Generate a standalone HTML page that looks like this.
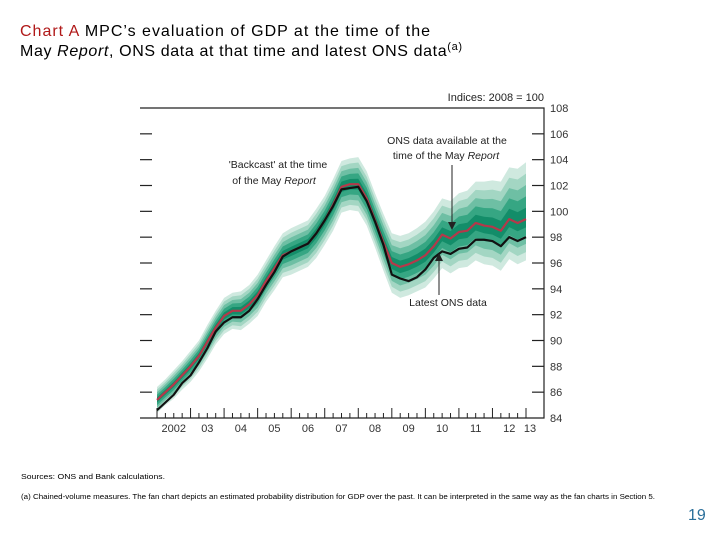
<!DOCTYPE html>
<html><head><meta charset="utf-8"><style>
body{margin:0;background:#fff;width:720px;height:540px;overflow:hidden;font-family:"Liberation Sans",sans-serif}
</style></head><body>
<svg id="chart" width="720" height="540" viewBox="0 0 720 540" xmlns="http://www.w3.org/2000/svg" font-family="Liberation Sans, sans-serif">
<text x="20" y="36" font-size="16" fill="#000" textLength="410" lengthAdjust="spacing"><tspan fill="#b01818">Chart A</tspan>  MPC’s evaluation of GDP at the time of the</text>
<text x="20" y="56" font-size="16" fill="#000" textLength="442" lengthAdjust="spacing">May <tspan font-style="italic">Report</tspan>, ONS data at that time and latest ONS data<tspan font-size="11" dy="-6">(a)</tspan></text>
<g id="plot"></g>
<text x="21" y="479" font-size="7" fill="#000" textLength="144" lengthAdjust="spacingAndGlyphs">Sources:  ONS and Bank calculations.</text>
<text x="21" y="499" font-size="7" fill="#000" textLength="634" lengthAdjust="spacingAndGlyphs">(a)  Chained-volume measures.  The fan chart depicts an estimated probability distribution for GDP over the past.  It can be interpreted in the same way as the fan charts in Section 5.</text>
<text x="688" y="520" font-size="16" fill="#2a6f9a">19</text>
</svg>
<script>
const quarters = 45; // 2002 Q1 .. 2013 Q1
const yearLabels = ["2002","03","04","05","06","07","08","09","10","11","12","13"];
const yTicks = [84,86,88,90,92,94,96,98,100,102,104,106,108];
const backcast = [85.4,86.0,86.6,87.3,88.0,88.8,89.9,91.0,91.9,92.3,92.3,92.8,93.5,94.6,95.6,96.6,96.9,97.2,97.5,98.3,99.3,100.5,101.9,102.1,102.1,101.0,99.3,97.6,96.0,95.7,95.9,96.2,96.6,97.3,98.2,97.9,98.4,98.5,99.1,98.9,98.8,98.5,99.4,99.1,99.4];
const latest = [84.6,85.2,85.8,86.7,87.3,88.3,89.4,90.7,91.4,91.8,91.8,92.3,93.2,94.3,95.3,96.5,96.9,97.2,97.5,98.3,99.3,100.4,101.7,101.8,101.9,100.8,99.2,97.4,95.1,94.8,94.6,94.9,95.5,96.4,96.9,96.7,97.1,97.2,97.8,97.8,97.7,97.3,98.0,97.7,98.0];
const fanUpper = [1.0,1.0,1.1,1.1,1.2,1.2,1.3,1.3,1.4,1.4,1.5,1.5,1.6,1.6,1.7,1.7,1.8,1.8,1.8,1.9,1.9,2.0,2.0,2.0,2.1,2.1,2.1,2.2,2.3,2.4,2.4,2.5,2.6,2.7,2.8,2.9,3.0,3.1,3.2,3.4,3.6,3.8,4.0,4.2,4.4];
const fanLower = [1.0,1.0,1.1,1.1,1.2,1.2,1.3,1.3,1.4,1.4,1.5,1.5,1.6,1.6,1.7,1.7,1.8,1.8,1.8,1.9,1.9,2.0,2.0,2.0,2.1,2.1,2.1,2.2,2.3,2.4,2.4,2.4,2.5,2.5,2.6,2.7,2.8,2.8,2.9,3.0,3.0,3.1,3.1,3.2,3.2];

const NS="http://www.w3.org/2000/svg";
const L=140,R=544,T=108,B=418,X0=157,X1=526;
const xs=q=>X0+(X1-X0)*q/(quarters-1);
const ys=v=>B-(v-84)/(108-84)*(B-T);
const g=document.getElementById('plot');
function mk(tag,attrs){const e=document.createElementNS(NS,tag);for(const k in attrs)e.setAttribute(k,attrs[k]);g.appendChild(e);return e;}

const bandFrac=[1,0.8,0.6,0.4,0.2];
const bandCol=["#cfe9df","#a3d6c3","#6ebfa4","#36a683","#138d69"];
bandFrac.forEach((f,i)=>{
  let d="";
  for(let q=0;q<quarters;q++)d+=(q?"L":"M")+xs(q)+","+ys(backcast[q]+fanUpper[q]*f);
  for(let q=quarters-1;q>=0;q--)d+="L"+xs(q)+","+ys(backcast[q]-fanLower[q]*f);
  const p=mk('path',{d:d+"Z",fill:bandCol[i],stroke:"none"});
  
  
});

const fr=mk('path',{d:`M${L},${T}H${R}V${B}H${L}`,fill:"none",stroke:"#222","stroke-width":1.2});



yTicks.forEach(v=>{
  const y=ys(v);
  if(v>84&&v<108){
    const a=mk('line',{x1:L,x2:L+12,y1:y,y2:y,stroke:"#222","stroke-width":1.2});
    
    
    const b=mk('line',{x1:R-12,x2:R,y1:y,y2:y,stroke:"#222","stroke-width":1.2});
    
    
  }
  const t=mk('text',{x:R+6,y:y+4,"font-size":11,fill:"#333"});
  t.textContent=v;
  
  
});

for(let q=0;q<quarters;q++){
  const major=q%4===0;
  const ln=mk('line',{x1:xs(q),x2:xs(q),y1:B,y2:B-(major?10:5),stroke:"#222","stroke-width":1});
  
  
}
yearLabels.forEach((lab,i)=>{
  const cx = i<11 ? (xs(i*4)+xs(i*4+4))/2 : xs(44)+4;
  const t=mk('text',{x:cx,y:B+14,"font-size":11,fill:"#333","text-anchor":"middle"});
  t.textContent=lab;
  
  
});

function line(arr,col,w,name){
  let d="";arr.forEach((v,q)=>d+=(q?"L":"M")+xs(q)+","+ys(v));
  const p=mk('path',{d,fill:"none",stroke:col,"stroke-width":w,"stroke-linejoin":"round"});
  
  
}
line(backcast,"#b5384a",2.2,"backcast-line");
line(latest,"#111",2.2,"latest-ons-line");

function txt(x,y,s,name,size,anchor){
  const t=mk('text',{x,y,"font-size":size||10.5,fill:"#222","text-anchor":anchor||"start"});
  t.innerHTML=s;
  
  
}
txt(544,101,"Indices:  2008 = 100","units-label",11,"end");
txt(278,168,"'Backcast' at the time","annotation-backcast",10.5,"middle");
txt(274,184,"of the May <tspan font-style='italic'>Report</tspan>","annotation-backcast-2",10.5,"middle");
txt(447,144,"ONS data available at the","annotation-ons-may",10.5,"middle");
txt(446,159,"time of the May <tspan font-style='italic'>Report</tspan>","annotation-ons-may-2",10.5,"middle");
txt(448,306,"Latest ONS data","annotation-latest",10.5,"middle");
const a1=mk('path',{d:"M452,165V225",stroke:"#222","stroke-width":1,fill:"none"});


const h1=mk('path',{d:"M448,222L452,230L456,222Z",fill:"#222"});


const a2=mk('path',{d:"M439,295V258",stroke:"#222","stroke-width":1,fill:"none"});


const h2=mk('path',{d:"M435,261L439,253L443,261Z",fill:"#222"});


</script>
</body></html>
